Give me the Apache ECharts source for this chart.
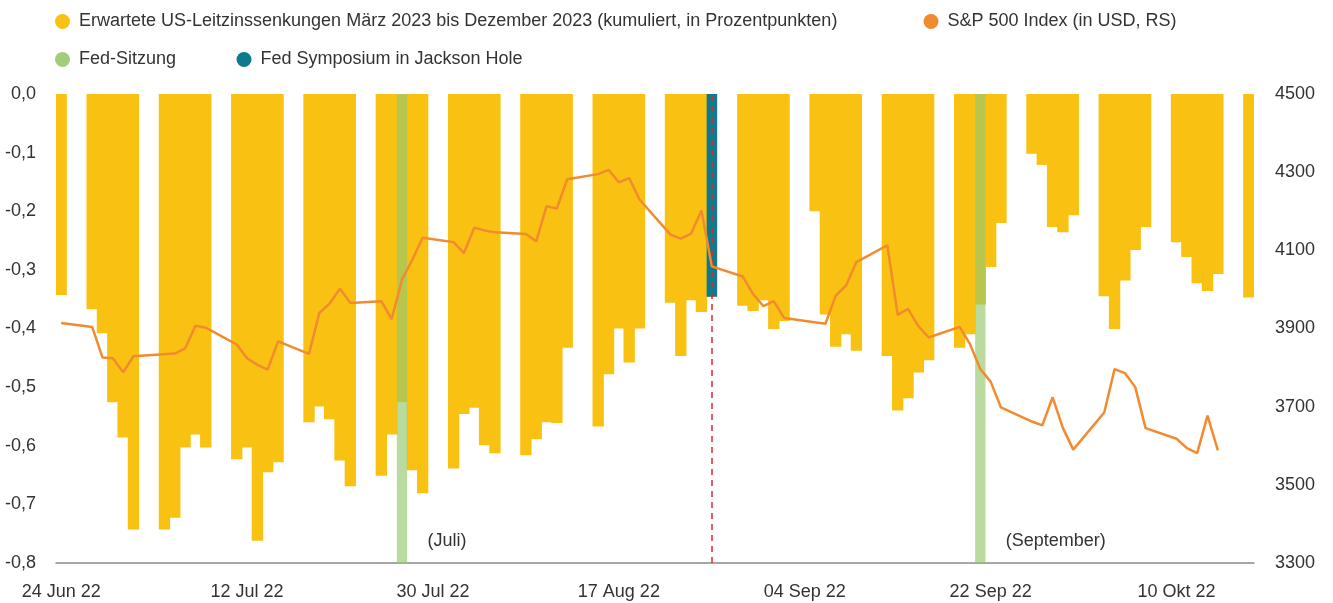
<!DOCTYPE html>
<html>
<head>
<meta charset="utf-8">
<script src="https://cdn.jsdelivr.net/npm/echarts@6/dist/echarts.min.js"></script>
<style>
html,body{margin:0;padding:0;background:#fff;}
#chart{width:1333px;height:603px;}
</style>
</head>
<body>
<div id="chart"></div>
<script>
// ---- Data (weekdays only) ----
const tradingDays = [
 '2022-06-24',
 '2022-06-27','2022-06-28','2022-06-29','2022-06-30','2022-07-01',
 '2022-07-04','2022-07-05','2022-07-06','2022-07-07','2022-07-08',
 '2022-07-11','2022-07-12','2022-07-13','2022-07-14','2022-07-15',
 '2022-07-18','2022-07-19','2022-07-20','2022-07-21','2022-07-22',
 '2022-07-25','2022-07-26','2022-07-27','2022-07-28','2022-07-29',
 '2022-08-01','2022-08-02','2022-08-03','2022-08-04','2022-08-05',
 '2022-08-08','2022-08-09','2022-08-10','2022-08-11','2022-08-12',
 '2022-08-15','2022-08-16','2022-08-17','2022-08-18','2022-08-19',
 '2022-08-22','2022-08-23','2022-08-24','2022-08-25','2022-08-26',
 '2022-08-29','2022-08-30','2022-08-31','2022-09-01','2022-09-02',
 '2022-09-05','2022-09-06','2022-09-07','2022-09-08','2022-09-09',
 '2022-09-12','2022-09-13','2022-09-14','2022-09-15','2022-09-16',
 '2022-09-19','2022-09-20','2022-09-21','2022-09-22','2022-09-23',
 '2022-09-26','2022-09-27','2022-09-28','2022-09-29','2022-09-30',
 '2022-10-03','2022-10-04','2022-10-05','2022-10-06','2022-10-07',
 '2022-10-10','2022-10-11','2022-10-12','2022-10-13','2022-10-14',
 '2022-10-17'
];
const rateCuts = [
 -0.343,
 -0.367,-0.408,-0.526,-0.586,-0.743,
 -0.743,-0.723,-0.603,-0.581,-0.603,
 -0.623,-0.603,-0.762,-0.645,-0.628,
 -0.560,-0.533,-0.555,-0.625,-0.669,
 -0.651,-0.581,-0.526,-0.642,-0.681,
 -0.639,-0.546,-0.535,-0.599,-0.613,
 -0.616,-0.589,-0.560,-0.561,-0.433,
 -0.567,-0.478,-0.400,-0.458,-0.400,
 -0.356,-0.447,-0.352,-0.372,-0.346,
 -0.361,-0.370,-0.352,-0.401,-0.387,
 -0.200,-0.376,-0.431,-0.410,-0.438,
 -0.447,-0.540,-0.519,-0.475,-0.454,
 -0.433,-0.410,-0.359,-0.295,-0.220,
 -0.102,-0.121,-0.227,-0.236,-0.207,
 -0.345,-0.401,-0.318,-0.266,-0.227,
 -0.253,-0.278,-0.323,-0.336,-0.307,
 -0.347
];
const sp500 = [
 3914,
 3904,3826,3824,3788,3829,
 null,3836,3849,3907,3902,
 3859,3824,3807,3795,3867,
 3835,3940,3964,4002,3965,
 3970,3924,4025,4076,4132,
 4121,4093,4158,4151,4146,
 4142,4123,4213,4207,4282,
 4295,4306,4274,4285,4230,
 4140,4130,4143,4202,4059,
 4033,3988,3957,3970,3927,
 null,3912,3984,4010,4070,
 4113,3935,3950,3906,3877,
 3904,3860,3796,3764,3698,
 3662,3652,3724,3645,3590,
 3685,3796,3786,3750,3645,
 3618,3594,3581,3677,3588,
 null
];
const fedMeetings = ['2022-07-27', '2022-09-21'];
const fedLabels = ['(Juli)', '(September)'];
const fedBarValue = -0.8;
const jacksonHole = ['2022-08-26'];
const jacksonValue = [-0.346];
const monthNames = ['Jan','Feb','Mär','Apr','Mai','Jun','Jul','Aug','Sep','Okt','Nov','Dez'];

const names = {
  cuts: 'Erwartete US-Leitzinssenkungen März 2023 bis Dezember 2023 (kumuliert, in Prozentpunkten)',
  sp: 'S&P 500 Index (in USD, RS)',
  fed: 'Fed-Sitzung',
  jh: 'Fed Symposium in Jackson Hole'
};
const colors = { cuts: '#F9C213', sp: '#F28A2E', fed: 'rgba(150,200,110,0.66)', fedLegend: '#A2CD7C', jh: '#0F798D', dash: '#E5242D', text: '#333333', axis: '#8a8a8a' };

// ---- Build calendar categories (every calendar day) ----
function iso(d){ return d.toISOString().slice(0,10); }
const categories = [];
{
  const d = new Date(tradingDays[0] + 'T00:00:00Z');
  const end = new Date(tradingDays[tradingDays.length-1] + 'T00:00:00Z');
  while (d <= end) { categories.push(iso(d)); d.setUTCDate(d.getUTCDate()+1); }
}
function onCalendar(dates, vals) {
  const m = {};
  dates.forEach((d,i) => { m[d] = vals[i]; });
  return categories.map(c => (c in m ? m[c] : null));
}
const cutsData = onCalendar(tradingDays, rateCuts);
const spData = onCalendar(tradingDays, sp500);
const fedData = onCalendar(fedMeetings, fedMeetings.map(() => fedBarValue));
const jhData = onCalendar(jacksonHole, jacksonValue);

function fmtDate(s) {
  const [y,m,d] = s.split('-');
  return d + ' ' + monthNames[parseInt(m,10)-1] + ' ' + y.slice(2);
}

const FONT = 'Liberation Sans, Arial, sans-serif';
const chart = echarts.init(document.getElementById('chart'));
const legendBase = { orient: 'horizontal', padding: 0, itemWidth: 15, itemHeight: 15, icon: 'circle',
  selectedMode: false,
  textStyle: { fontFamily: FONT, fontSize: 18, color: colors.text, padding: [0,0,0,4] } };

chart.setOption({
  animation: false,
  backgroundColor: '#ffffff',
  textStyle: { fontFamily: FONT },
  legend: [
    Object.assign({}, legendBase, { left: 55, top: 12.5, data: [{ name: names.cuts, itemStyle: { color: colors.cuts } }] }),
    Object.assign({}, legendBase, { left: 923.5, top: 12.5, data: [{ name: names.sp, itemStyle: { color: colors.sp } }] }),
    Object.assign({}, legendBase, { left: 55, top: 50.5, data: [{ name: names.fed, itemStyle: { color: colors.fedLegend } }] }),
    Object.assign({}, legendBase, { left: 236.5, top: 50.5, data: [{ name: names.jh, itemStyle: { color: colors.jh } }] })
  ],
  grid: { left: 56, right: 79, top: 94, bottom: 40, containLabel: false },
  xAxis: [
    {
      type: 'category',
      data: categories,
      boundaryGap: true,
      position: 'bottom',
      axisLine: { show: true, onZero: false, lineStyle: { color: colors.axis, width: 1.5 } },
      axisTick: { show: false },
      axisLabel: { interval: 17, margin: 20, fontSize: 18, fontFamily: FONT, color: colors.text, formatter: fmtDate },
      splitLine: { show: false }
    },
    {
      type: 'category',
      data: categories,
      boundaryGap: true,
      position: 'bottom',
      show: false
    }
  ],
  yAxis: [
    { type: 'value', min: -0.8, max: 0, interval: 0.1,
      axisLine: { show: false }, axisTick: { show: false }, splitLine: { show: false },
      axisLabel: { margin: 20, fontSize: 18, fontFamily: FONT, color: colors.text,
        formatter: v => (Math.abs(v) < 1e-9 ? '0,0' : v.toFixed(1).replace('.', ',')) } },
    { type: 'value', min: 3300, max: 4500, interval: 200, position: 'right',
      axisLine: { show: false }, axisTick: { show: false }, splitLine: { show: false },
      axisLabel: { margin: 21, fontSize: 18, fontFamily: FONT, color: colors.text, formatter: v => String(v) } }
  ],
  series: [
    { name: names.cuts, type: 'bar', xAxisIndex: 0, data: cutsData, barWidth: '110%', barCategoryGap: '0%',
      itemStyle: { color: colors.cuts }, z: 2 },
    { name: names.fed, type: 'bar', xAxisIndex: 1, data: fedData, barWidth: '100%', barGap: '-100%',
      itemStyle: { color: colors.fed }, z: 3,
      markPoint: {
        symbol: 'rect', symbolSize: 1, itemStyle: { color: 'rgba(0,0,0,0)' }, silent: true,
        label: { show: true, position: 'right', distance: 25, formatter: '{b}', fontSize: 18, fontFamily: FONT, color: colors.text },
        data: fedMeetings.map((d,i) => ({ name: fedLabels[i], coord: [d, -0.762] }))
      } },
    { name: names.jh, type: 'bar', xAxisIndex: 1, data: jhData, barWidth: '100%', barGap: '-100%',
      itemStyle: { color: colors.jh }, z: 4,
      markLine: { symbol: 'none', silent: true, animation: false,
        lineStyle: { color: colors.dash, type: [6, 5], width: 1.5 },
        label: { show: false },
        data: jacksonHole.map(d => ({ xAxis: d })) } },
    { name: names.sp, type: 'line', yAxisIndex: 1, data: spData, connectNulls: true,
      symbol: 'none', lineStyle: { color: colors.sp, width: 2.5 }, itemStyle: { color: colors.sp }, z: 5 }
  ]
});
</script>
</body>
</html>
